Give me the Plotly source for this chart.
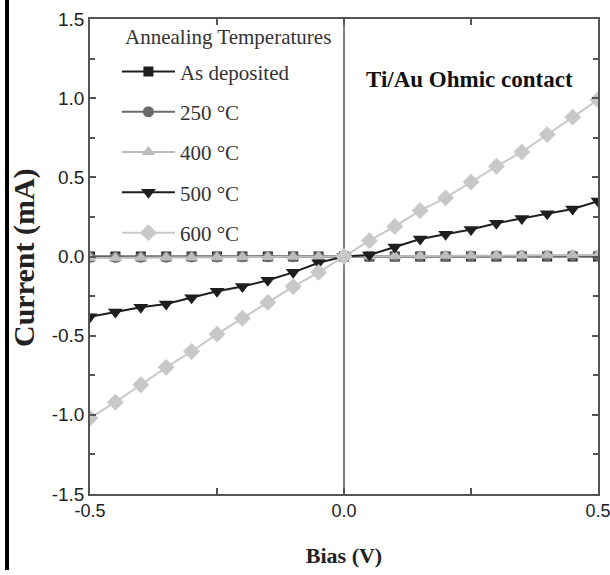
import plotly.graph_objects as go

bias = [-0.5, -0.45, -0.4, -0.35, -0.3, -0.25, -0.2, -0.15, -0.1, -0.05, 0.0,
        0.05, 0.1, 0.15, 0.2, 0.25, 0.3, 0.35, 0.4, 0.45, 0.5]

i_as_dep = [0.0] * 21
i_250 = [-0.005, -0.005, -0.004, -0.004, -0.003, -0.003, -0.002, -0.002, -0.001, -0.001, 0.0,
         0.001, 0.001, 0.002, 0.002, 0.003, 0.003, 0.004, 0.004, 0.005, 0.005]
i_400 = [-0.01, -0.009, -0.008, -0.007, -0.006, -0.005, -0.004, -0.003, -0.002, -0.001, 0.0,
         0.001, 0.002, 0.003, 0.004, 0.005, 0.006, 0.007, 0.008, 0.009, 0.01]
i_500 = [-0.38, -0.35, -0.32, -0.30, -0.26, -0.22, -0.19, -0.15, -0.10, -0.04, 0.0,
         0.01, 0.06, 0.11, 0.14, 0.17, 0.21, 0.24, 0.27, 0.30, 0.35]
i_600 = [-1.02, -0.92, -0.81, -0.70, -0.60, -0.49, -0.39, -0.29, -0.19, -0.10, 0.0,
         0.10, 0.19, 0.29, 0.37, 0.47, 0.57, 0.66, 0.77, 0.88, 0.99]

names = ["As deposited", "250 °C", "400 °C", "500 °C", "600 °C"]
series = [i_as_dep, i_250, i_400, i_500, i_600]
symbols = ["square", "circle", "triangle-up", "triangle-down", "diamond"]
sizes = [10, 11, 12, 13, 13]
colors = ["#1e1e1e", "#6a6a6a", "#bdbdbd", "#1e1e1e", "#c8c8c8"]

fig = go.Figure()
for k, (nm, ys, sym, sz, col) in enumerate(zip(names, series, symbols, sizes, colors)):
    fig.add_trace(go.Scatter(
        x=bias, y=ys, name=nm, mode="lines+markers",
        line=dict(color=col, width=2),
        marker=dict(symbol=sym, size=sz, color=col),
        legendgroup=f"g{k}",
    ))

axis_common = dict(
    showline=True, linecolor="#555", linewidth=1.5, mirror="ticks",
    ticks="inside", ticklen=6, tickcolor="#555", tickwidth=1.5,
    showgrid=False, zeroline=False, automargin=False, ticklabeloverflow="allow",
)

fig.update_layout(
    width=610, height=575,
    margin=dict(l=90, r=12, t=19, b=81),
    plot_bgcolor="white", paper_bgcolor="white",
    xaxis=dict(range=[-0.5, 0.5], tickvals=[-0.5, 0.0, 0.5], ticktext=["-0.5", "0.0", "0.5"],
               minor=dict(tickvals=[-0.25, 0.25], ticks="inside", ticklen=6, tickcolor="#555", tickwidth=1.5),
               tickfont=dict(family="Liberation Sans", size=18, color="#222"),
               title=dict(text="<b>Bias (V)</b>", font=dict(family="Liberation Serif", size=22, color="#222"), standoff=27),
               **axis_common),
    yaxis=dict(range=[-1.5, 1.5], tickvals=[-1.5, -1.0, -0.5, 0.0, 0.5, 1.0, 1.5],
               ticktext=["-1.5", "-1.0", "-0.5", "0.0", "0.5", "1.0", "1.5"],
               minor=dict(tickvals=[-1.25, -0.75, -0.25, 0.25, 0.75, 1.25], ticks="inside", ticklen=5, tickcolor="#555", tickwidth=1.5),
               tickfont=dict(family="Liberation Sans", size=19, color="#222"),
               **axis_common),
    legend=dict(
        x=0.053, y=0.932, xanchor="left", yanchor="top",
        bgcolor="rgba(0,0,0,0)",
        font=dict(family="Liberation Serif", size=21, color="#333"),
        tracegroupgap=10, itemwidth=53,
    ),
    showlegend=True,
    shapes=[
        dict(type="line", xref="x", yref="paper", x0=0, x1=0, y0=0, y1=1,
             line=dict(color="#555", width=1.5), layer="below"),
        dict(type="rect", xref="paper", yref="paper",
             x0=(5 - 90) / 508, x1=(9 - 90) / 508, y0=(494 - 570) / 475, y1=(494 - 0) / 475,
             fillcolor="black", line=dict(width=0)),
    ],
    annotations=[
        dict(text="<b>Current (mA)</b>", xref="paper", yref="paper",
             x=(24 - 90) / 508, y=(494 - 258) / 475, xanchor="center", yanchor="middle",
             textangle=-90, showarrow=False,
             font=dict(family="Liberation Serif", size=30, color="#222")),
        dict(text="Annealing Temperatures", xref="paper", yref="paper",
             x=(123 - 90) / 508, y=(494 - 37) / 475, xanchor="left", yanchor="middle",
             showarrow=False, font=dict(family="Liberation Serif", size=21, color="#333")),
        dict(text="<b>Ti/Au Ohmic contact</b>", x=0.248, y=1.118, xref="x", yref="y",
             showarrow=False, font=dict(family="Liberation Serif", size=23, color="#111")),
    ],
)

fig.write_html("out.html")
